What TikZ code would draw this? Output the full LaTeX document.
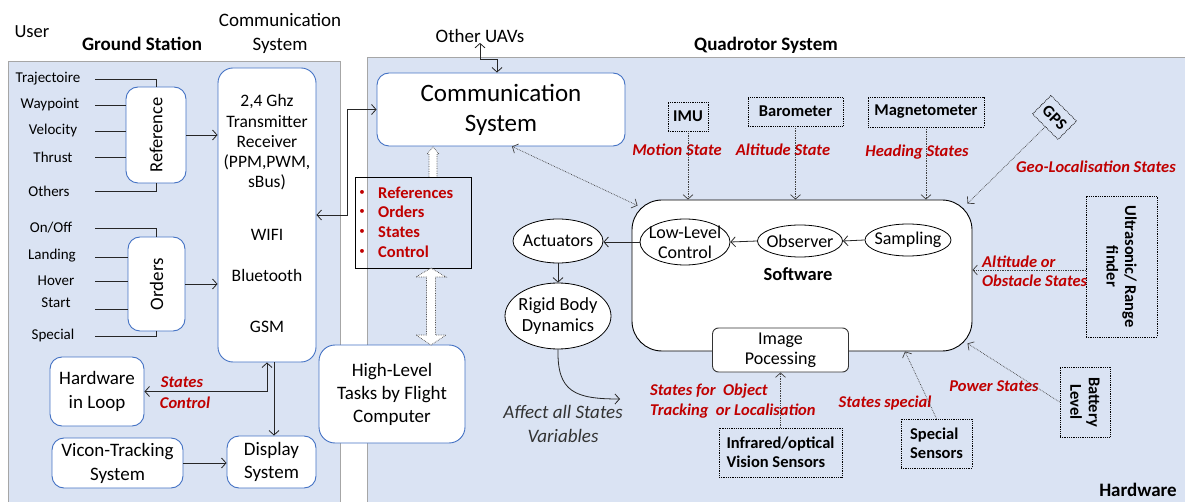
\documentclass[tikz,border=0pt]{standalone}
\usepackage{fontspec}
\setmainfont{Carlito}
\usetikzlibrary{arrows.meta,shapes.geometric,calc}
\definecolor{panelfill}{HTML}{DAE3F3}
\definecolor{panelline}{HTML}{A6A6A6}
\definecolor{boxblue}{HTML}{4472C4}
\definecolor{labred}{HTML}{C00000}
\newcommand\fsz[2]{\fontsize{#1}{#2}\selectfont}
\tikzset{
  txt/.style={inner sep=0pt, align=center},
  small/.style={txt, font=\fsz{15}{18}},
  mid/.style={txt, font=\fsz{19}{23.5}},
  redlbl/.style={txt, text=labred, font=\fsz{16.5}{19.5}\bfseries\itshape},
  itemlbl/.style={txt, text=labred, font=\fsz{16.5}{19}\bfseries},
  bluebox/.style={draw=boxblue, fill=white, line width=0.9pt, rounded corners=12pt, inner sep=0pt, align=center},
  sensor/.style={draw=black, densely dotted, line width=0.8pt, inner sep=0pt, align=center, font=\fsz{16.5}{19}\bfseries},
  ell/.style={ellipse, draw=black, fill=white, line width=0.8pt, inner sep=0pt},
  etext/.style={txt, font=\fsz{18}{20}},
  wirel/.style={draw=black!85, line width=0.8pt},
  arr/.style={wirel, ->},
  darr/.style={wirel, <->},
  dotarr/.style={draw=black!75, line width=0.7pt, densely dotted, ->},
  dotdarr/.style={draw=black!75, line width=0.7pt, densely dotted, <->},
  hollow/.style={draw=black!70, densely dotted, line width=0.7pt, fill=white},
}
\begin{document}
\begin{tikzpicture}[x=1pt,y=-1pt, >={Straight Barb[length=4.5pt,width=10pt]}]
\useasboundingbox (0,0) rectangle (1185,502);
\fill[white] (0,0) rectangle (1185,502);

% background panels
\path[fill=panelfill, draw=panelline, line width=1pt] (8,62) rectangle (340,510);
\path[fill=panelfill, draw=panelline, line width=1pt] (367,58) rectangle (1195,510);

% headings
\node[txt, font=\fsz{18.5}{22}] (user) at (32,32) {User};
\node[txt, font=\fsz{19}{23}\bfseries] (gs) at (142,44) {Ground Station};
\node[mid] (cshead) at (280,33.5) {Communication\\System};
\node[mid] (uav) at (480,36) {Other UAVs};
\node[txt, font=\fsz{19}{23}\bfseries] (qs) at (766,45) {Quadrotor System};
\node[txt, font=\fsz{19}{23}\bfseries] (hw) at (1138,490) {Hardware};

% ground station: transmitter
\node[bluebox, rounded corners=15pt, minimum width=98, minimum height=294] (tx) at (267,215) {};
\node[txt, font=\fsz{17.5}{20.3}] (txa) at (267,142.5) {2,4 Ghz\\Transmitter\\Receiver\\(PPM,PWM,\\sBus)};
\node[txt, font=\fsz{17.5}{21}] (txb) at (267,235) {WIFI};
\node[txt, font=\fsz{17.5}{21}] (txc) at (267,275) {Bluetooth};
\node[txt, font=\fsz{17.5}{21}] (txd) at (267,327) {GSM};

% reference and orders
\node[bluebox, minimum width=60, minimum height=96] (ref) at (156,135) {};
\node[txt, rotate=90, font=\fsz{18.5}{22}] (reft) at (ref) {Reference};
\node[bluebox, minimum width=57, minimum height=94] (ord) at (156.5,284) {};
\node[txt, rotate=90, font=\fsz{19}{22}] (ordt) at (ord) {Orders};

\node[small] (l1) at (48,79) {Trajectoire};
\node[small] (l2) at (50,105) {Waypoint};
\node[small] (l3) at (53,131) {Velocity};
\node[small] (l4) at (53,157) {Thrust};
\node[small] (l5) at (49,191) {Others};
\node[small] (o1) at (51,228) {On/Off};
\node[small] (o2) at (52,256) {Landing};
\node[small] (o3) at (56,281) {Hover};
\node[small] (o4) at (56,303) {Start};
\node[small] (o5) at (53,336) {Special};

\coordinate (lx) at (95,0);
\draw[wirel] (l1.east -| lx) -| (ref.north);
\draw[wirel] (l2.east -| lx) -- (l2.east -| ref.west);
\draw[wirel] (l3.east -| lx) -- (l3.east -| ref.west);
\draw[wirel] (l4.east -| lx) -- (l4.east -| ref.west);
\draw[wirel] (l5.east -| lx) -| (ref.south);
\draw[wirel] (o1.east -| lx) -| (ord.north);
\draw[wirel] ([yshift=-1pt]o2.east -| lx) -- ([yshift=-1pt]o2.east -| ord.west);
\draw[wirel] (o3.east -| lx) -- (o3.east -| ord.west);
\draw[wirel] ([yshift=-6pt]o4.east -| lx) -- ([yshift=-6pt]o4.east -| ord.west);
\draw[wirel] (o5.east -| lx) -| (ord.south);
\draw[arr] (ref.east) -- (ref.east -| tx.west);
\draw[arr] (ord.east) -- (ord.east -| tx.west);

% hardware in loop, tracking and display
\node[bluebox, minimum width=94, minimum height=69, font=\fsz{19}{24}] (hil) at (97,391.5) {Hardware\\in Loop};
\node[bluebox, minimum width=131, minimum height=50, font=\fsz{19}{24}] (vicon) at (117.5,463) {Vicon-Tracking\\System};
\node[bluebox, minimum width=89, minimum height=52, font=\fsz{19}{23}] (disp) at (271.5,462) {Display\\System};
\node[redlbl] (rs9) at (182,382) {States};
\node[redlbl] (rs10) at (185,403) {Control};
\draw[darr] (hil.east) -| (tx.south);
\draw[arr] ([xshift=7pt]tx.south) -- ([xshift=7pt]tx.south |- disp.north);
\draw[arr] (vicon.east) -- (vicon.east -| disp.west);

% quadrotor communication system
\node[bluebox, minimum width=248, minimum height=73, font=\fsz{25}{30}] (comm) at (501,109.5) {Communication\\System};
\coordinate (bend) at (347,0);
\draw[darr] (tx.east) -- (tx.east -| bend) |- (comm.west);
\coordinate (jog) at (480,59);
\draw[darr] (uav.south) -- (jog) -| ([xshift=-4pt]comm.north);

% exchanged data list
\node[draw=black, line width=0.8pt, minimum width=116, minimum height=91, inner sep=0pt] (lst) at (413,222.5) {};
\foreach \y/\t [count=\i] in {193/References,212/Orders,232/States,252/Control} {
  \node[txt, text=labred, font=\fsz{11}{13}] (bul\i) at (362,\y) {•};
  \node[itemlbl, anchor=west] (item\i) at (378,\y) {\t};
}
\path[hollow] (429,177) -- (429,154) -- (427,154) -- (433,147) -- (439,154) -- (437,154) -- (437,177);

% high-level tasks
\node[bluebox, rounded corners=16pt, minimum width=146, minimum height=98, font=\fsz{19}{23}] (high) at (392,394) {High-Level\\Tasks by Flight\\Computer};
\path[hollow] (431,268) -- (446,277) -- (435.5,277) -- (435.5,335) -- (446,335) -- (431,345)
  -- (416,335) -- (426.5,335) -- (426.5,277) -- (416,277) -- cycle;

% software block
\node[draw=black, fill=white, line width=0.9pt, rounded corners=30pt, minimum width=340, minimum height=151] (sw) at (802,275.5) {};
\node[txt, font=\fsz{18.5}{22}\bfseries] (swt) at (798,274) {Software};
\node[ell, minimum width=90, minimum height=46] (llc) at (685,242) {};
\node[etext] (llct) at (llc) {Low-Level\\Control};
\node[ell, minimum width=85, minimum height=32] (obs) at (800,241) {};
\node[etext] (obst) at (obs) {Observer};
\node[ell, minimum width=86, minimum height=32] (samp) at (908,240) {};
\node[etext] (sampt) at (samp) {Sampling};
\node[draw=black!80, fill=white, line width=0.9pt, rounded corners=6pt, minimum width=136, minimum height=44, inner sep=0pt, align=center, font=\fsz{18}{20}] (imgp) at (780.5,350) {Image\\Pocessing};

% vehicle dynamics
\node[ell, minimum width=90, minimum height=44] (act) at (558,241) {};
\node[etext] (actt) at (act) {Actuators};
\node[ell, minimum width=106, minimum height=66] (rbd) at (558,316) {};
\node[etext, font=\fsz{18.5}{20.5}] (rbdt) at (rbd) {Rigid Body\\Dynamics};
\node[txt, text=black!80, font=\fsz{19}{24}\itshape] (aff) at (563,424) {Affect all States\\Variables};
\coordinate (affend) at (620,399);
\draw[arr] (rbd.south) .. controls (557,392) and (575,399) .. (affend);

% sensors
\node[sensor, minimum width=40, minimum height=29] (imu) at (688,116.5) {IMU};
\node[sensor, minimum width=95, minimum height=29] (baro) at (795.5,111.5) {Barometer};
\node[sensor, minimum width=116, minimum height=30] (mag) at (926,112) {Magnetometer};
\node[sensor, rotate=-45, minimum width=36, minimum height=26] (gps) at (1054.5,117.5) {GPS};
\node[sensor, minimum width=71, minimum height=141] (ultra) at (1121.5,266.5) {};
\node[txt, rotate=-90, font=\fsz{16.5}{18.5}\bfseries] (ultrat) at (ultra) {Ultrasonic/ Range\\finder};
\node[sensor, minimum width=50, minimum height=70] (batt) at (1085,402) {};
\node[txt, rotate=-90, font=\fsz{16.5}{18.5}\bfseries] (battt) at (batt) {Battery\\Level};
\node[sensor, minimum width=123, minimum height=49, align=left] (infra) at (780.5,452.5) {Infrared/optical\\Vision Sensors};
\node[sensor, minimum width=71, minimum height=49, align=left] (spec) at (936.5,443.5) {Special\\Sensors};

% state labels
\node[redlbl] (rs1) at (677,150) {Motion State};
\node[redlbl] (rs2) at (783,150) {Altitude State};
\node[redlbl] (rs3) at (917,152) {Heading States};
\node[redlbl] (rs4) at (1096,167) {Geo-Localisation States};
\node[redlbl, align=left, anchor=west] (rs5) at (982,271.5) {Altitude or\\Obstacle States};
\node[redlbl, align=left, anchor=west] (rs6) at (650,401) {States for\ \ Object\\Tracking\ \ or Localisation};
\node[redlbl] (rs7) at (885,403) {States special};
\node[redlbl] (rs8) at (994,386) {Power States};

% connectors of the quadrotor
\draw[dotdarr] ([xshift=11pt]comm.south) -- ([shift={(6,6)}]sw.north west);
\draw[arr] (llc.west) -- (llc.west -| act.east);
\draw[arr] (act.south) -- (rbd.north);
\draw[arr] (samp.west) -- (obs.east);
\draw[arr] (obs.west) -- (llc.east);
\draw[dotarr] (imu.south) -- (imu.south |- sw.north);
\draw[dotarr] (baro.south) -- (baro.south |- sw.north);
\draw[dotarr] (mag.south) -- (mag.south |- sw.north);
\draw[dotarr] (gps.south) -- ([shift={(-5,4)}]sw.north east);
\draw[dotarr] ([yshift=-3.5pt]ultra.west) -- ([yshift=-3.5pt]ultra.west -| sw.east);
\draw[dotarr] (batt.west) -- ([shift={(-5,-8)}]sw.south east);
\draw[dotarr] (infra.north) -- (imgp.south);
\draw[dotarr] (spec.north) -- ([xshift=103pt]sw.south);
\end{tikzpicture}
\end{document}
